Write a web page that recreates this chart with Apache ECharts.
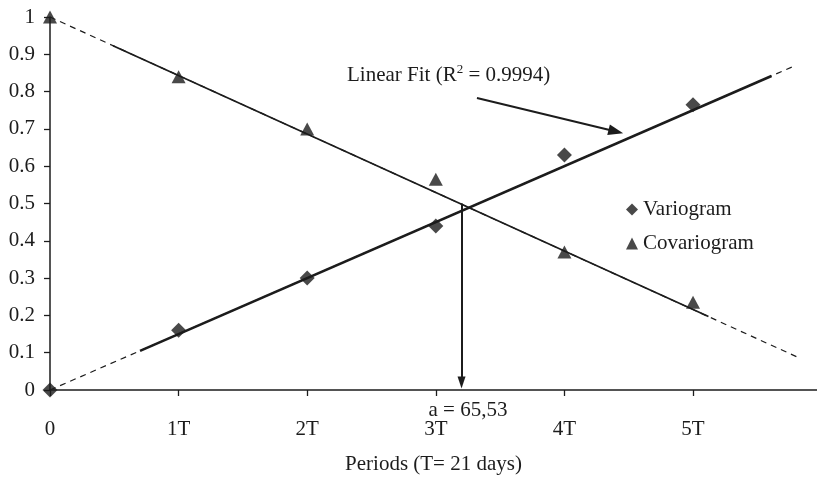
<!DOCTYPE html>
<html><head><meta charset="utf-8">
<script src="https://cdn.jsdelivr.net/npm/echarts/dist/echarts.min.js"></script>
<style>html,body{margin:0;padding:0;background:#fff}#c{width:817px;height:480px}</style>
</head><body><div id="c"></div>
<script>
// ---- data ----
const periods = [0, 1, 2, 3, 4, 5];
const variogram = [0, 0.16, 0.30, 0.44, 0.63, 0.765];
const covariogram = [1.0, 0.84, 0.70, 0.565, 0.37, 0.235];
const xTickLabels = ['0', '1T', '2T', '3T', '4T', '5T'];
const yTickLabels = ['0', '0.1', '0.2', '0.3', '0.4', '0.5', '0.6', '0.7', '0.8', '0.9', '1'];
// linear fit lines, end points [period, value]
const varioFitDashed = [[0, 0], [5.79, 0.869]];
const varioFitSolid = [[0.70, 0.105], [5.61, 0.842]];
const covarioFitDashed = [[0, 1], [5.82, 0.087]];
const covarioFitSolid = [[0.49, 0.923], [5.12, 0.197]];
// annotation arrows [start, arrowhead]
const rangeArrow = [[3.2, 0.5], [3.2, 0.02]];
const fitArrow = [[3.32, 0.783], [4.40, 0.693]];
const rangeLabel = 'a = 65,53';
const seriesNames = ['Variogram', 'Covariogram'];
const xAxisName = 'Periods (T= 21 days)';

const FONT = '"Liberation Serif", "Times New Roman", serif';
const INK = '#1c1c1c';

const chart = echarts.init(document.getElementById('c'), null, {renderer: 'canvas'});

function zip(xs, ys) { return xs.map((x, i) => [x, ys[i]]); }

const option = {
  animation: false,
  backgroundColor: '#fff',
  grid: {left: 50, right: 0, top: 17, bottom: 85, containLabel: false},
  legend: {
    orient: 'vertical', left: 621, top: 194, itemGap: 13,
    itemWidth: 12, itemHeight: 12,
    textStyle: {fontFamily: FONT, fontSize: 21, color: INK},
    data: [{name: seriesNames[0], icon: 'diamond'}, {name: seriesNames[1], icon: 'triangle'}]
  },
  xAxis: {
    type: 'value', min: 0, max: 5.964, interval: 1,
    name: xAxisName, nameLocation: 'middle', nameGap: 64,
    nameTextStyle: {fontFamily: FONT, fontSize: 21, color: INK},
    axisLine: {show: true, lineStyle: {color: INK, width: 1.5}},
    axisTick: {show: true, length: 6, customValues: periods, lineStyle: {color: INK, width: 1.3}},
    splitLine: {show: false},
    axisLabel: {
      margin: 29, fontFamily: FONT, fontSize: 21, color: INK, customValues: periods,
      formatter: v => Number.isInteger(v) && xTickLabels[v] !== undefined ? xTickLabels[v] : ''
    }
  },
  yAxis: {
    type: 'value', min: 0, max: 1, interval: 0.1,
    axisLine: {show: true, lineStyle: {color: INK, width: 1.5}},
    axisTick: {show: true, length: 6, lineStyle: {color: INK, width: 1.3}},
    splitLine: {show: false},
    axisLabel: {
      margin: 15, fontFamily: FONT, fontSize: 21, color: INK,
      formatter: v => yTickLabels[Math.round(v * 10)]
    }
  },
  graphic: [
    {
      type: 'text', left: 347, top: 63, silent: true,
      style: {
        text: '{a|Linear Fit (R}{s|2}{a| = 0.9994)}',
        rich: {
          a: {fontFamily: FONT, fontSize: 21, fill: INK, color: INK},
          s: {fontFamily: FONT, fontSize: 13, fill: INK, color: INK, padding: [0, 0, 12, 0]}
        }
      }
    },
    {
      type: 'text', silent: true,
      style: {x: 468, y: 410, text: rangeLabel, align: 'center', verticalAlign: 'middle',
               font: '21px ' + FONT, fill: INK}
    }
  ],
  series: [
    {
      type: 'line', data: varioFitDashed, symbol: 'none', silent: true, z: 2,
      lineStyle: {color: INK, width: 1.2, type: [6, 5]},
      markLine: {
        silent: true, animation: false, symbol: ['none', 'triangle'],
        label: {show: false},
        lineStyle: {color: INK, width: 2, type: 'solid'},
        data: [
          [{coord: rangeArrow[0], symbol: 'none'}, {coord: rangeArrow[1], symbol: 'triangle', symbolSize: [8, 12]}],
          [{coord: fitArrow[0], symbol: 'none'}, {coord: fitArrow[1], symbol: 'triangle', symbolSize: [11, 15]}]
        ]
      }
    },
    {type: 'line', data: covarioFitDashed, symbol: 'none', silent: true, z: 2,
     lineStyle: {color: INK, width: 1.2, type: [6, 5]}},
    {type: 'line', data: varioFitSolid, symbol: 'none', silent: true, z: 3,
     lineStyle: {color: INK, width: 2.6}},
    {type: 'line', data: covarioFitSolid, symbol: 'none', silent: true, z: 3,
     lineStyle: {color: INK, width: 1.8}},
    {
      name: seriesNames[0], type: 'scatter', symbol: 'diamond', symbolSize: 15, clip: false, z: 5,
      itemStyle: {color: INK}, data: zip(periods, variogram)
    },
    {
      name: seriesNames[1], type: 'scatter', symbol: 'triangle', symbolSize: [14, 13], clip: false, z: 5,
      itemStyle: {color: INK}, data: zip(periods, covariogram)
    }
  ]
};
chart.setOption(option);
</script>
</body></html>
